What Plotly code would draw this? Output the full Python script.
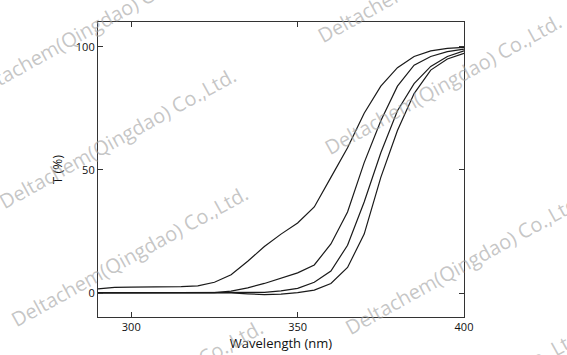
import plotly.graph_objects as go

wavelength = [290, 295, 300, 305, 310, 315, 320, 325, 330, 335, 340, 345, 350,
              355, 360, 365, 370, 375, 380, 385, 390, 395, 400]
t1 = [1.8, 2.4, 2.5, 2.5, 2.6, 2.7, 3.0, 4.5, 7.5, 13, 19, 24, 28.5,
      35, 47, 59, 73, 84, 91.5, 96, 98.3, 99.3, 99.7]
t2 = [0.3, 0.3, 0.3, 0.3, 0.3, 0.3, 0.3, 0.3, 0.9, 2.2, 4, 6, 8.3,
      11.5, 20, 33, 53, 70, 84, 92.5, 96, 98, 99]
t3 = [0.2, 0.2, 0.2, 0.2, 0.2, 0.2, 0.2, 0.2, 0.2, 0.3, 0.4, 1, 2,
      4.5, 9, 19.5, 37, 57, 74, 85, 92, 96, 98.3]
t4 = [0.2, 0.2, 0.2, 0.2, 0.2, 0.2, 0.2, 0.2, 0.2, -0.2, -0.5, -0.3, 0.3,
      1.3, 4, 10.5, 24, 47, 66, 81, 90.5, 95, 97.3]
series = [t1, t2, t3, t4]

x_ticks = [300, 350, 400]
y_ticks = [0, 50, 100]
watermark = "Deltachem(Qingdao) Co.,Ltd."

W, H = 567, 355
L, R, T, B = 98, 103, 22, 38

fig = go.Figure()
for s in series:
    fig.add_trace(go.Scatter(x=wavelength, y=s, mode="lines",
                             line=dict(color="#1a1a1a", width=1.2),
                             showlegend=False, hoverinfo="skip"))

axis_common = dict(showline=True, linecolor="#333333", linewidth=1.2, mirror="ticks",
                   ticks="inside", ticklen=5, tickwidth=1, tickcolor="#333333",
                   showgrid=False, zeroline=False, automargin=False,
                   tickfont=dict(family="Open Sans", size=11, color="#111111"))

fig.update_xaxes(range=[290, 400], tickvals=x_ticks,
                 title=dict(text="Wavelength (nm)", standoff=5,
                            font=dict(family="Open Sans", size=13, color="#111111")),
                 **axis_common)
fig.update_yaxes(range=[-9.6, 110], tickvals=y_ticks,
                 title=dict(text="T (%)", standoff=10,
                            font=dict(family="Open Sans", size=13, color="#111111")),
                 **axis_common)

# watermark centers in pixel coordinates
wm_centers = [(85, 30), (117, 138), (129, 256), (144, 390),
              (436, -27), (443, 85), (463, 264), (467, 398)]
pw, ph = W - L - R, H - T - B
for (cx, cy) in wm_centers:
    fig.add_annotation(text=watermark, xref="paper", yref="paper",
                       x=(cx - L) / pw, y=(H - B - cy) / ph,
                       xanchor="center", yanchor="middle", textangle=-29,
                       showarrow=False,
                       font=dict(family="Open Sans", size=20, color="rgba(160,160,160,0.6)"))

fig.update_layout(width=W, height=H, margin=dict(l=L, r=R, t=T, b=B),
                  paper_bgcolor="white", plot_bgcolor="white")

fig.write_html("out.html", config={"displayModeBar": False},
               post_script="document.body.style.margin='0';document.body.style.overflow='hidden';")
